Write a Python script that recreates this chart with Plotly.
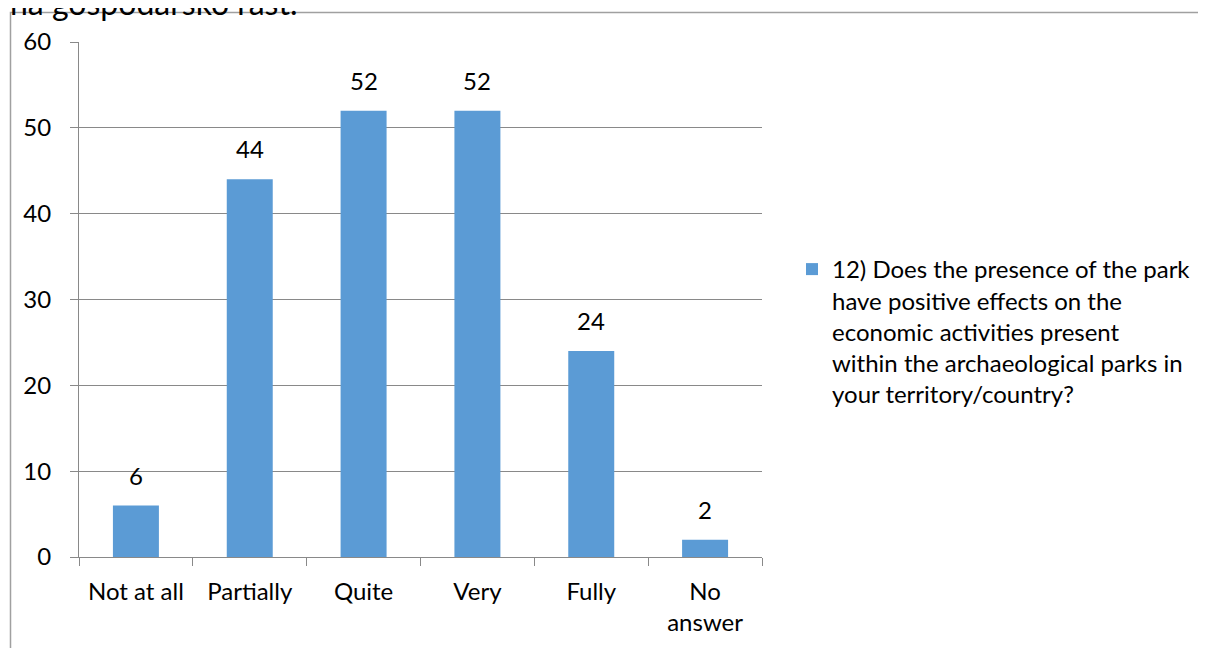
import plotly.graph_objects as go

categories = ["Not at all", "Partially", "Quite", "Very", "Fully", "No<br>answer"]
values = [6, 44, 52, 52, 24, 2]
series_name = "12) Does the presence of the park<br>have positive effects on the<br>economic activities present<br>within the archaeological parks in<br>your territory/country?"
y_ticks = [0, 10, 20, 30, 40, 50, 60]
top_text = "na gospodarsko rast."

FONT = "Lato, Carlito, Calibri, sans-serif"
OFF = 8  # page body margin
W, H = 1206, 648
# plot area in page pixels
L, R, T, B = 79 - OFF, 762 - OFF, 42 - OFF, 557 - OFF
pw, ph = R - L, B - T

def px_x(px):
    return (px - OFF - L) / pw

def px_y(py):
    return (B - (py - OFF)) / ph

fig = go.Figure()
fig.add_trace(go.Bar(
    x=categories, y=values, name=series_name,
    marker=dict(color="#5B9BD5", line=dict(width=0)),
    showlegend=True,
))

for c, v in zip(categories, values):
    fig.add_annotation(
        x=c, y=v, text=str(v), showarrow=False, yanchor="bottom",
        yshift=14, font=dict(family=FONT, size=24, color="#000000"),
    )

fig.update_layout(
    width=W, height=H,
    margin=dict(l=L, r=W - R, t=T, b=H - B, autoexpand=False),
    paper_bgcolor="white", plot_bgcolor="white",
    font=dict(family=FONT, size=24, color="#000000"),
    bargap=0.596,
    showlegend=True,
    legend=dict(
        x=px_x(792), y=px_y(247), xanchor="left", yanchor="top",
        font=dict(family=FONT, size=24, color="#000000"),
        bgcolor="rgba(0,0,0,0)", itemwidth=30, valign="top",
    ),
    xaxis=dict(
        type="category", showline=True, linecolor="#898989", linewidth=1,
        ticks="outside", tickson="boundaries", ticklen=8, tickcolor="#898989",
        showgrid=False, tickfont=dict(family=FONT, size=24),
        ticklabelstandoff=13,
    ),
    yaxis=dict(
        range=[0, 60], tickvals=y_ticks, showline=True, linecolor="#898989",
        linewidth=1, ticks="outside", ticklen=8, tickcolor="#898989",
        showgrid=True, gridcolor="#898989", gridwidth=1,
        tickfont=dict(family=FONT, size=24), ticklabelstandoff=14,
        zeroline=False,
    ),
    shapes=[dict(
        type="rect", xref="paper", yref="paper",
        x0=px_x(10.5), x1=px_x(1300), y0=px_y(700), y1=px_y(12.5),
        line=dict(color="#A0A0A0", width=1.5), fillcolor="rgba(0,0,0,0)",
        layer="below",
    )],
)
fig.add_annotation(
    text=top_text, xref="paper", yref="paper",
    x=px_x(8), y=px_y(24), xanchor="left", yanchor="bottom",
    showarrow=False, font=dict(family=FONT, size=32, color="#000000"),
)

fig.write_html("out.html")
